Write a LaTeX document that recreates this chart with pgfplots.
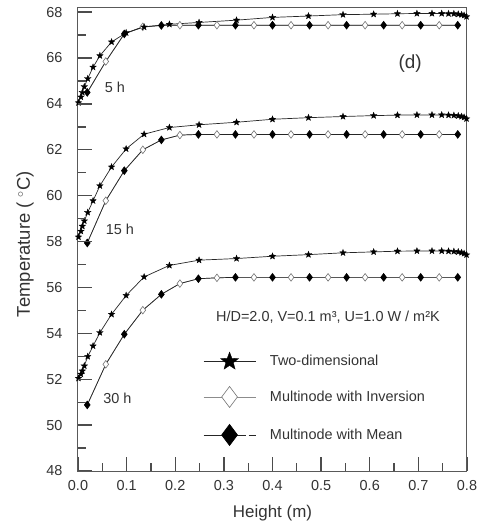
\documentclass[border=0pt]{standalone}
\usepackage{fontspec}
\setmainfont{Liberation Sans}
\usepackage{pgfplots}
\pgfplotsset{compat=1.18}
\usetikzlibrary{calc}

\pgfdeclareplotmark{fstar}{%
  \pgfpathmoveto{\pgfpointpolar{90}{\pgfplotmarksize}}%
  \pgfpathlineto{\pgfpointpolar{126}{0.42\pgfplotmarksize}}%
  \pgfpathlineto{\pgfpointpolar{162}{\pgfplotmarksize}}%
  \pgfpathlineto{\pgfpointpolar{198}{0.42\pgfplotmarksize}}%
  \pgfpathlineto{\pgfpointpolar{234}{\pgfplotmarksize}}%
  \pgfpathlineto{\pgfpointpolar{270}{0.42\pgfplotmarksize}}%
  \pgfpathlineto{\pgfpointpolar{306}{\pgfplotmarksize}}%
  \pgfpathlineto{\pgfpointpolar{342}{0.42\pgfplotmarksize}}%
  \pgfpathlineto{\pgfpointpolar{18}{\pgfplotmarksize}}%
  \pgfpathlineto{\pgfpointpolar{54}{0.42\pgfplotmarksize}}%
  \pgfpathclose
  \pgfusepathqfillstroke
}

\colorlet{axcol}{black!65}
\colorlet{tickcol}{black!70}
\colorlet{txt}{black!80}

\tikzset{
  s2d/.style={color=black!85, line width=0.7bp, mark=fstar, mark size=3.4bp,
    mark options={fill=black, draw=black, line width=0.3bp, solid}},
  sinv/.style={color=black!45, line width=0.7bp, mark=diamond*, mark size=3.8bp,
    mark options={fill=white, draw=black!55, line width=0.6bp, solid}},
  smean/.style={color=black!85, line width=0.7bp, mark=diamond*, mark size=3.8bp,
    mark options={fill=black, draw=black, solid}},
}

% Two-dimensional model
\pgfplotstableread{
x      t5     t15    t30
0.001  64.05  58.20  52.04
0.006  64.30  58.45  52.22
0.009  64.50  58.67  52.36
0.013  64.75  58.90  52.58
0.020  65.10  59.27  52.99
0.031  65.60  59.78  53.45
0.045  66.10  60.43  54.03
0.069  66.70  61.25  54.83
0.099  67.10  62.04  55.65
0.136  67.35  62.68  56.46
0.188  67.47  62.97  56.96
0.249  67.55  63.09  57.19
0.326  67.65  63.20  57.26
0.400  67.77  63.33  57.36
0.474  67.83  63.40  57.43
0.545  67.89  63.45  57.51
0.608  67.91  63.49  57.55
0.657  67.93  63.51  57.58
0.697  67.94  63.52  57.59
0.728  67.94  63.52  57.59
0.748  67.94  63.52  57.59
0.762  67.93  63.51  57.58
0.773  67.93  63.50  57.57
0.782  67.91  63.48  57.55
0.789  67.89  63.45  57.52
0.794  67.86  63.42  57.48
0.799  67.80  63.35  57.42
}\twod

% Multinode models (21 nodes)
\pgfplotstableread{
x         t5     t15    t30
0.019048  64.50  57.94  50.88
0.057143  65.85  59.78  52.65
0.095238  67.05  61.09  53.96
0.133333  67.36  62.00  55.01
0.171429  67.42  62.43  55.70
0.209524  67.43  62.64  56.17
0.247619  67.43  62.67  56.38
0.285714  67.43  62.67  56.42
0.323810  67.43  62.67  56.44
0.361905  67.43  62.67  56.44
0.400000  67.43  62.67  56.44
0.438095  67.43  62.67  56.44
0.476190  67.43  62.67  56.44
0.514286  67.43  62.67  56.44
0.552381  67.43  62.67  56.44
0.590476  67.43  62.67  56.44
0.628571  67.43  62.67  56.44
0.666667  67.43  62.67  56.44
0.704762  67.43  62.67  56.44
0.742857  67.43  62.67  56.44
0.780952  67.43  62.67  56.44
}\multi

\begin{document}
\begin{tikzpicture}
\begin{axis}[
  scale only axis, width=389bp, height=463bp,
  xmin=0, xmax=0.8, ymin=48, ymax=68.18,
  xtick={0,0.1,0.2,0.3,0.4,0.5,0.6,0.7,0.8},
  xticklabels={0.0,0.1,0.2,0.3,0.4,0.5,0.6,0.7,0.8},
  minor xtick={0.05,0.15,0.25,0.35,0.45,0.55,0.65,0.75},
  ytick={48,50,52,54,56,58,60,62,64,66,68},
  minor ytick={49,51,53,55,57,59,61,63,65,67},
  xtick pos=left, ytick pos=left, tick align=inside,
  major tick length=14bp, minor tick length=8bp,
  every tick/.append style={tickcol, line width=1.3bp},
  axis line style={axcol, line width=1bp},
  /pgf/number format/assume math mode=true,
  tick label style={font=\fontsize{14.5}{15}\selectfont, text=txt},
  yticklabel style={xshift=-12bp},
  xticklabel style={yshift=-6bp},
  xlabel={Height (m)},
  ylabel={Temperature ( $^{\circ}$C)},
  label style={text=txt},
  xlabel style={font=\fontsize{17}{18}\selectfont, at={(rel axis cs:0.5,0)}, anchor=center, yshift=-42bp},
  ylabel style={font=\fontsize{18.5}{19}\selectfont, at={(rel axis cs:0,0.49)}, anchor=center, yshift=53bp},
  legend style={draw=none, fill=none, at={(axis cs:0.251,51.15)}, anchor=west,
    font=\fontsize{14.5}{15}\selectfont, text=txt, row sep=17bp,
    /tikz/every odd column/.append style={column sep=12bp}},
  legend cell align=left,
]
\addlegendimage{legend image code/.code={\draw[s2d, mark size=9.5bp, mark repeat=2, mark phase=2]
    plot coordinates {(0bp,0bp) (26bp,0bp) (52bp,0bp)};}}
\addlegendentry{Two-dimensional}
\addlegendimage{legend image code/.code={\draw[sinv, mark size=10.5bp, mark repeat=2, mark phase=2]
    plot coordinates {(0bp,0bp) (26bp,0bp) (52bp,0bp)};}}
\addlegendentry{Multinode with Inversion}
\addlegendimage{legend image code/.code={\draw[smean, mark size=10.5bp, mark repeat=2, mark phase=2]
    plot coordinates {(0bp,0bp) (26bp,0bp) (42bp,0bp)};
    \draw[black!85, line width=0.8bp] (45bp,0bp) -- (52bp,0bp);}}
\addlegendentry{Multinode with Mean}

% Multinode with Inversion (open diamonds)
\addplot[sinv, mark repeat=2, mark phase=2, forget plot] table[x=x, y=t5] {\multi};
\addplot[sinv, mark repeat=2, mark phase=2, forget plot] table[x=x, y=t15] {\multi};
\addplot[sinv, mark repeat=2, mark phase=2, forget plot] table[x=x, y=t30] {\multi};
% Multinode with Mean (filled diamonds)
\addplot[smean, mark repeat=2, mark phase=1, forget plot] table[x=x, y=t5] {\multi};
\addplot[smean, mark repeat=2, mark phase=1, forget plot] table[x=x, y=t15] {\multi};
\addplot[smean, mark repeat=2, mark phase=1, forget plot] table[x=x, y=t30] {\multi};
% Two-dimensional (stars)
\addplot[s2d, forget plot] table[x=x, y=t5] {\twod};
\addplot[s2d, forget plot] table[x=x, y=t15] {\twod};
\addplot[s2d, forget plot] table[x=x, y=t30] {\twod};

\node[font=\fontsize{14.5}{15}\selectfont, text=txt] at (axis cs:0.076,64.72) {5 h};
\node[font=\fontsize{14.5}{15}\selectfont, text=txt] at (axis cs:0.086,58.55) {15 h};
\node[font=\fontsize{14.5}{15}\selectfont, text=txt] at (axis cs:0.081,51.15) {30 h};
\node[font=\fontsize{19}{20}\selectfont, text=txt] at (axis cs:0.683,65.74) {(d)};
\node[font=\fontsize{14.5}{15}\selectfont, text=txt] at (axis cs:0.514,54.70)
  {H/D=2.0, V=0.1 m³, U=1.0 W / m²K};
\end{axis}
% tick marks along the inner side of the bottom and left axis lines
\foreach \i in {1,...,15} {
  \pgfmathsetmacro{\len}{ifthenelse(mod(\i,2)==0,14,8)}
  \draw[tickcol, line width=1.3bp] ($(current axis.south west)+(\i*24.3125bp,0bp)$) -- ++(0bp,\len bp);
}
\foreach \j in {1,...,20} {
  \pgfmathsetmacro{\len}{ifthenelse(mod(\j,2)==0,14,8)}
  \draw[tickcol, line width=1.3bp] ($(current axis.south west)+(0bp,\j*22.943bp)$) -- ++(\len bp,0bp);
}
\pgfresetboundingbox
\path[use as bounding box] ($(current axis.south west)+(-78bp,-55bp)$) rectangle ($(current axis.north east)+(11bp,8bp)$);
\end{tikzpicture}
\end{document}
